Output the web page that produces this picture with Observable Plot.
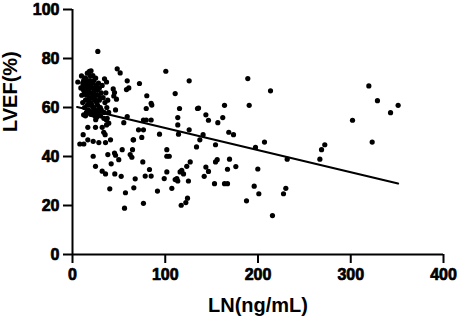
<!DOCTYPE html>
<html><head><meta charset="utf-8">
<script src="https://cdn.jsdelivr.net/npm/d3@7"></script>
<script src="https://cdn.jsdelivr.net/npm/@observablehq/plot@0.6"></script>
<style>
body{margin:0;background:#fff}
</style>
</head><body><div id="chart"></div>
<script>
// LN (ng/mL) values of each patient
const lnValues = [
  27.3,48.2,51.4,18.3,9.7,5.7,34.5,36.7,58.2,100.6,125.8,72.2,59,60.7,110.7,80.1,84.8,85.5,79.5,115.4,
  134.8,113.5,113.5,76.5,79.5,84.8,71.2,76.5,93.8,114.3,74.7,65.8,101.7,59,46.4,43.9,44.5,45.3,47.4,55.3,
  65.4,53.6,38.1,45.3,46.4,49.9,41.7,22.3,24.8,64.7,62.2,64,32,35.6,45.6,52.5,66.1,40.2,57.1,56.1,
  101.7,104.3,126.9,123.2,75.8,83,78.4,84.8,67.6,101.7,98.9,116,119.7,117.8,110.7,113.5,112.5,125,107.1,91.6,
  76.5,124,122.2,117.2,133.7,37.4,39.1,125.8,
  14,19.4,24.8,30.2,33.8,36.6,16.5,24.8,32,36.7,33.7,35.2,11.5,7.9,12.2,16.5,22.3,28.4,35.6,41,
  189,319.5,213.5,135.9,163.9,190.5,143.8,146.6,162,156.7,301.9,168.5,173.6,140.8,137.3,154.2,207,197.3,272,268.5,
  156,154.2,169.3,231.5,266.7,143.8,146.6,176.1,167.1,199.8,142,153.1,163.9,167.1,195.9,200.9,230,227.5,187.6,215.6,
  328.8,351.1,342.9,323.1,
  12,14,15,16,17,18,19,20,21,22,23,24,25,26,14,13,15,17,19,21,
  23,25,27,28,29,30,31,32,33,35,16,20,22,12,10,11,9,18,20,22,
  24,26,28,30,18,15,17,19,21,23,26,27,13,16,24,29,34,36,38,14,
  20,22,25,31,12,37,39,
  11,13,15,17,19,21,23,25,27,29,16,18,20,22,24,26,14,12,10,28
];
// LVEF (%) values, same order
const lvefValues = [
  82.9,75.8,74.1,74.8,72.9,70.4,71.7,70.4,67.3,74.8,70.9,69.8,70.9,68,65.7,64.8,61.7,61,59.6,59.6,
  59.6,55.9,52.9,54.9,54.9,54.9,50.9,50.9,49.1,49.1,47.8,46.8,42.8,56.3,59,67.6,64.7,66.1,63.4,53.8,
  46.8,42.8,40.8,41.4,40.5,38.7,37,40.1,36,42.8,40.8,39.7,34,32.9,32.9,31.9,27.2,26.8,25.2,18.9,
  40.1,40.1,37.8,36,37.8,34.7,32,32,30.9,33.7,31,33.7,32.9,34.3,30.6,30,31,30,27,25.9,
  20.9,23,21.2,20.1,43.9,55.6,53.6,50.9,
  56.6,57.2,56.3,56.6,55.6,54.9,51.9,51.9,51.9,52.9,49.9,48.9,48.9,45.1,45.1,46.8,46.2,45.7,45.7,46.8,
  71.8,68.8,66.8,59.8,60.9,60.9,57,54.8,55.9,53.8,54.8,49.9,48.9,48.9,46.8,44.8,45.9,43.7,44.8,42.8,
  38.7,37.8,38.9,38.9,38.9,35.7,33.9,35.9,34.8,34.9,31.9,28.9,28.9,28.9,27.9,24.8,27,24.8,21.9,15.9,
  62.8,60.9,57.9,45.9,
  67,69,65,71,63,68,73,66,61,70,64,68,72,62,63,60,58,59,61,58,
  60,65,67,70,63,60,66,69,64,62,74,75,73,71,65,62,68,64,69,66,
  63,58,57,64,58,67,66,70,64,71,69,61,66,61,59,68,58,66,63,72,
  62,57,55,59,57,60,58,
  70,72,69,67,71,68,66,63,65,60,70,62,64,60,67,56,66,69,68,59
];
// Fitted regression line (endpoints)
const fitLN = [5, 351];
const fitLVEF = [60.2, 29];

const xTicks = [0, 100, 200, 300, 400];
const yTicks = [0, 20, 40, 60, 80, 100];
const xTitle = "LN(ng/mL)";
const yTitle = "LVEF(%)";

const points = lnValues.map((x, i) => ({ln: x, lvef: lvefValues[i]}));
const fit = fitLN.map((x, i) => ({ln: x, lvef: fitLVEF[i]}));

const font = "'Liberation Sans', Arial, Helvetica, sans-serif";

const chart = Plot.plot({
  width: 459, height: 322,
  marginLeft: 72, marginRight: 16, marginTop: 9, marginBottom: 68,
  style: {fontFamily: font, fontWeight: "bold", color: "#000", background: "#fff", overflow: "visible"},
  x: {domain: [0, 400]},
  y: {domain: [0, 100]},
  marks: [
    Plot.axisX({ticks: xTicks, tickSize: 9, strokeWidth: 2, text: null, label: null}),
    Plot.axisY({ticks: yTicks, tickSize: 9, strokeWidth: 2, text: null, label: null}),
    Plot.text(xTicks, {x: d => d, text: d => String(d), frameAnchor: "bottom", dy: 25,
      fontSize: 16, fontWeight: "bold", fill: "#000", stroke: "#000", strokeWidth: 0.7}),
    Plot.text(yTicks, {y: d => d, text: d => String(d), frameAnchor: "left", dx: -13, textAnchor: "end",
      fontSize: 16, fontWeight: "bold", fill: "#000", stroke: "#000", strokeWidth: 0.7}),
    Plot.ruleX([0], {strokeWidth: 2, stroke: "#000"}),
    Plot.ruleY([0], {strokeWidth: 2, stroke: "#000"}),
    Plot.dot(points, {x: "ln", y: "lvef", r: 2.6, fill: "#000", stroke: "none"}),
    Plot.line(fit, {x: "ln", y: "lvef", stroke: "#000", strokeWidth: 2.2}),
    Plot.text([xTitle], {text: d => d, frameAnchor: "bottom", dy: 57, fontSize: 20, fontWeight: "bold", fill: "#000"}),
    Plot.text([yTitle], {text: d => d, frameAnchor: "left", dx: -62, rotate: -90, fontSize: 20, fontWeight: "bold", fill: "#000"})
  ]
});
document.getElementById("chart").appendChild(chart);
</script>
</body></html>
